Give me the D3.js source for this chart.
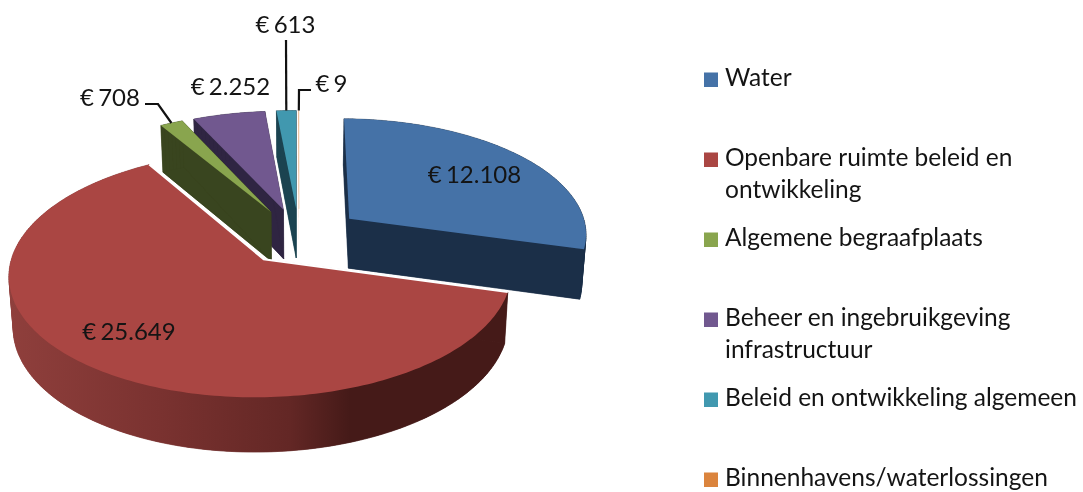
<!DOCTYPE html>
<html><head><meta charset="utf-8">
<script src="https://cdn.jsdelivr.net/npm/d3@7"></script>
<style>html,body{margin:0;padding:0;background:#fff}svg{display:block;filter:blur(0.45px)}text{font-family:Lato,sans-serif;fill:#141414}</style>
</head><body><svg id="c" width="1083" height="492"></svg>
<script>
const categories = ["Water","Openbare ruimte beleid en ontwikkeling","Algemene begraafplaats","Beheer en ingebruikgeving infrastructuur","Beleid en ontwikkeling algemeen","Binnenhavens/waterlossingen"];
const legendLines = [["Water"],["Openbare ruimte beleid en","ontwikkeling"],["Algemene begraafplaats"],["Beheer en ingebruikgeving","infrastructuur"],["Beleid en ontwikkeling algemeen"],["Binnenhavens/waterlossingen"]];
const values = [12108,25649,708,2252,613,9];
const valueLabels = ["€ 12.108","€ 25.649","€ 708","€ 2.252","€ 613","€ 9"];
const topColors = ["#4572a7","#aa4643","#89a54e","#71588f","#4198af","#db843d"];
const wallColors = ["#1b2f48","url(#redWall)","#39451f","#2f2542","#1b4350","#e8c09c"];
const explosion = [0.265,0.235,0.25,0.25,0.25,0.25];

const CX=299, CY=237, AX=243, AY=116, P=0.117, Q=-0.012, DEPTH=50, SHRINK=0.985;
const svg=d3.select("#c");
const defs=svg.append("defs");
const g=defs.append("linearGradient").attr("id","redWall").attr("gradientUnits","userSpaceOnUse").attr("x1",10).attr("x2",510).attr("y1",0).attr("y2",0);
[[0,"#8f3f3c"],[0.3,"#7a3230"],[0.56,"#632725"],[0.68,"#451a18"],[1,"#451a18"]].forEach(s=>g.append("stop").attr("offset",s[0]).attr("stop-color",s[1]));

const pie=d3.pie().sort(null).value(d=>d);
const arcs=pie(values);

function proj(u,v){const w=1-P*v-Q*u;return {x:CX+AX*u/w,y:CY+AY*v/w,w};}
function topPt(u,v){const p=proj(u,v);return [p.x,p.y];}
function botPt(u,v){const p=proj(u,v);return [CX+(p.x-CX)*SHRINK,p.y+DEPTH*Math.pow(1/p.w,0.6)];}
const line=d3.line();
function geom(a,i){
  const mid=(a.startAngle+a.endAngle)/2;
  const ox=explosion[i]*Math.sin(mid), oy=-explosion[i]*Math.cos(mid);
  const n=Math.max(2,Math.ceil((a.endAngle-a.startAngle)/0.02));
  const rim=d3.range(n+1).map(k=>{const t=a.startAngle+(a.endAngle-a.startAngle)*k/n;return [ox+Math.sin(t),oy-Math.cos(t)];});
  return {apex:[ox,oy],rim,mid,ox,oy};
}
const order=[0,4,5,3,2,1];
const gs=arcs.map(geom);
order.forEach(i=>{
  const G=gs[i], layer=svg.append("g"), f=wallColors[i], sw=i===5?0:.4;
  const tp=[G.apex,...G.rim].map(d=>topPt(...d)), bp=[G.apex,...G.rim].map(d=>botPt(...d));
  layer.append("path").attr("d",line(bp)+"Z").attr("fill",f).attr("stroke",f).attr("stroke-width",sw);
  for(let k=0;k<tp.length;k++){const m=(k+1)%tp.length;
    layer.append("path").attr("d",line([tp[k],tp[m],bp[m],bp[k]])+"Z").attr("fill",f).attr("stroke",f).attr("stroke-width",sw);}
  const t=layer.append("path").attr("d",line(tp)+"Z").attr("fill",topColors[i]);
  if(i===1){
    layer.append("path").attr("d",line([tp[1],tp[0],tp[tp.length-1]])).attr("fill","none").attr("stroke","#fff").attr("stroke-width",2).attr("stroke-linecap","butt");
  }
  if(i===5) t.attr("stroke",topColors[i]).attr("stroke-width",.5).attr("stroke-opacity",.35);
});

// leader lines, ending at the middle of each small slice's rim
function rimMid(i){const G=gs[i];return topPt(G.ox+Math.sin(G.mid),G.oy-Math.cos(G.mid));}
const leaders=[[2,[[145,104],[158,104]]],[4,[[286,40]]],[5,[[311,90],[299,90]]]];
leaders.forEach(([i,pts])=>{
  svg.append("path").attr("d",line([...pts,rimMid(i)])).attr("fill","none").attr("stroke","#111").attr("stroke-width",2.2);
});

const labelPos=[[474.5,183],[129,340],[110,106],[230.5,95],[285.5,33],[331.5,92]];
svg.selectAll("text.v").data(valueLabels).join("text").attr("class","v")
  .attr("x",(d,i)=>labelPos[i][0]).attr("y",(d,i)=>labelPos[i][1]).attr("text-anchor","middle")
  .attr("font-size",24).attr("word-spacing",-2).text(d=>d);

const legendY=d3.scaleLinear().domain([0,1]).range([86,166]);
const leg=svg.selectAll("g.l").data(categories).join("g").attr("class","l");
leg.append("rect").attr("x",704).attr("y",(d,i)=>legendY(i)-13.5).attr("width",14).attr("height",14.5).attr("fill",(d,i)=>topColors[i]);
leg.each(function(d,i){
  d3.select(this).selectAll("text").data(legendLines[i]).join("text")
   .attr("x",725).attr("y",(t,j)=>legendY(i)+j*31.5).attr("font-size",24.5).text(t=>t);
});
</script></body></html>
